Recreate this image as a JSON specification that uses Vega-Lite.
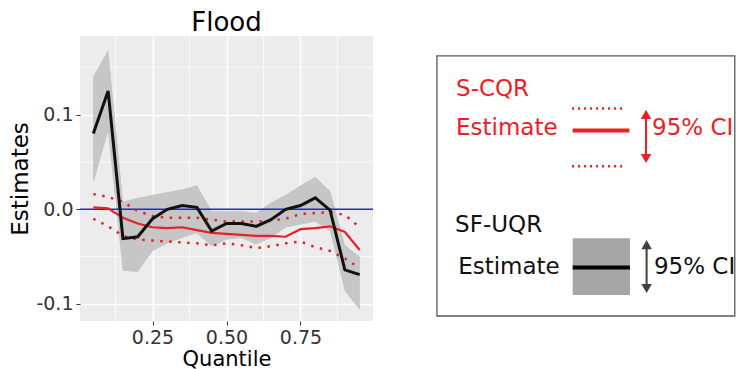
{
  "$schema": "https://vega.github.io/schema/vega-lite/v6.json",
  "background": "white",
  "padding": {"left": 9, "top": 9, "right": 0, "bottom": 0},
  "bounds": "flush",
  "spacing": 60,
  "config": {
    "view": {"stroke": null},
    "font": "DejaVu Sans",
    "axis": {"grid": true, "gridColor": "white", "gridWidth": 1.6, "domain": false, "ticks": true, "tickSize": 4, "tickColor": "#333333", "labelFontSize": 19, "labelColor": "#333333", "labelFont": "DejaVu Sans", "labelPadding": 3, "titleFontWeight": "normal", "titleColor": "black"},
    "axisX": {"titleFontSize": 21, "titleFont": "DejaVu Sans", "titlePadding": 1},
    "axisY": {"titleFontSize": 23, "titleFont": "DejaVu Sans", "titlePadding": 3}
  },
  "datasets": {
    "est": [
      {"q": 0.05, "black": 0.080, "lo": 0.028, "hi": 0.140, "red": 0.002, "rlo": -0.010, "rhi": 0.016},
      {"q": 0.10, "black": 0.125, "lo": 0.083, "hi": 0.168, "red": 0.001, "rlo": -0.018, "rhi": 0.013},
      {"q": 0.15, "black": -0.031, "lo": -0.065, "hi": 0.008, "red": -0.009, "rlo": -0.028, "rhi": 0.008},
      {"q": 0.20, "black": -0.029, "lo": -0.066, "hi": 0.012, "red": -0.015, "rlo": -0.032, "rhi": -0.002},
      {"q": 0.25, "black": -0.010, "lo": -0.044, "hi": 0.015, "red": -0.019, "rlo": -0.033, "rhi": -0.007},
      {"q": 0.30, "black": 0.000, "lo": -0.036, "hi": 0.018, "red": -0.020, "rlo": -0.034, "rhi": -0.009},
      {"q": 0.35, "black": 0.004, "lo": -0.030, "hi": 0.021, "red": -0.019, "rlo": -0.035, "rhi": -0.009},
      {"q": 0.40, "black": 0.002, "lo": -0.025, "hi": 0.025, "red": -0.022, "rlo": -0.036, "rhi": -0.009},
      {"q": 0.45, "black": -0.023, "lo": -0.039, "hi": -0.002, "red": -0.025, "rlo": -0.038, "rhi": -0.011},
      {"q": 0.50, "black": -0.015, "lo": -0.032, "hi": -0.002, "red": -0.026, "rlo": -0.036, "rhi": -0.013},
      {"q": 0.55, "black": -0.015, "lo": -0.030, "hi": -0.002, "red": -0.027, "rlo": -0.038, "rhi": -0.013},
      {"q": 0.60, "black": -0.018, "lo": -0.037, "hi": -0.004, "red": -0.028, "rlo": -0.041, "rhi": -0.013},
      {"q": 0.65, "black": -0.011, "lo": -0.030, "hi": 0.007, "red": -0.028, "rlo": -0.039, "rhi": -0.012},
      {"q": 0.70, "black": 0.000, "lo": -0.019, "hi": 0.015, "red": -0.029, "rlo": -0.036, "rhi": -0.010},
      {"q": 0.75, "black": 0.004, "lo": -0.016, "hi": 0.025, "red": -0.021, "rlo": -0.034, "rhi": -0.005},
      {"q": 0.80, "black": 0.012, "lo": -0.013, "hi": 0.034, "red": -0.020, "rlo": -0.040, "rhi": -0.004},
      {"q": 0.85, "black": -0.001, "lo": -0.023, "hi": 0.019, "red": -0.018, "rlo": -0.044, "rhi": -0.003},
      {"q": 0.90, "black": -0.064, "lo": -0.086, "hi": -0.038, "red": -0.024, "rlo": -0.052, "rhi": -0.006},
      {"q": 0.95, "black": -0.069, "lo": -0.106, "hi": -0.050, "red": -0.043, "rlo": -0.062, "rhi": -0.019}
    ]
  },
  "hconcat": [
    {
      "width": 293,
      "height": 285,
      "title": {"text": "Flood", "fontSize": 26, "font": "DejaVu Sans", "fontWeight": "normal", "color": "black", "anchor": "middle", "baseline": "alphabetic", "offset": -21},
      "view": {"fill": "#ececec", "stroke": null},
      "layer": [
        {
          "data": {"name": "est"},
          "mark": {"type": "area", "fill": "#c6c6c6", "opacity": 1},
          "encoding": {
            "x": {"field": "q", "type": "quantitative", "scale": {"domain": [0.005, 0.995], "nice": false, "zero": false},
              "axis": {"title": "Quantile", "values": [0.25, 0.5, 0.75], "format": ".2f"}},
            "y": {"field": "lo", "type": "quantitative", "scale": {"domain": [-0.118, 0.183], "nice": false, "zero": false},
              "axis": {"title": "Estimates", "values": [-0.1, 0, 0.1], "labelExpr": "replace(format(datum.value, '.1f'), '\u2212', '-')"}},
            "y2": {"field": "hi"}
          }
        },
        {
          "data": {"values": [{"gq": 0.125}, {"gq": 0.375}, {"gq": 0.625}, {"gq": 0.875}]},
          "mark": {"type": "rule", "color": "white", "strokeWidth": 0.8, "opacity": 0.9},
          "encoding": {"x": {"field": "gq", "type": "quantitative", "axis": {"title": "Quantile", "values": [0.25, 0.5, 0.75], "format": ".2f"}}}
        },
        {
          "data": {"values": [{"gy": -0.05}, {"gy": 0.05}, {"gy": 0.15}]},
          "mark": {"type": "rule", "color": "white", "strokeWidth": 0.8, "opacity": 0.9},
          "encoding": {"y": {"field": "gy", "type": "quantitative", "axis": {"title": "Estimates", "values": [-0.1, 0, 0.1], "labelExpr": "replace(format(datum.value, '.1f'), '\u2212', '-')"}}}
        },
        {
          "data": {"name": "est"},
          "mark": {"type": "area", "fill": "#c6c6c6", "opacity": 1},
          "encoding": {
            "x": {"field": "q", "type": "quantitative", "axis": {"title": "Quantile", "values": [0.25, 0.5, 0.75], "format": ".2f"}},
            "y": {"field": "lo", "type": "quantitative", "axis": {"title": "Estimates", "values": [-0.1, 0, 0.1], "labelExpr": "replace(format(datum.value, '.1f'), '\u2212', '-')"}},
            "y2": {"field": "hi"}
          }
        },
        {
          "data": {"values": [{"z": 0}]},
          "mark": {"type": "rule", "color": "#2626cc", "strokeWidth": 1.7},
          "encoding": {"y": {"field": "z", "type": "quantitative", "axis": {"title": "Estimates", "values": [-0.1, 0, 0.1], "labelExpr": "replace(format(datum.value, '.1f'), '\u2212', '-')"}}}
        },
        {
          "data": {"name": "est"},
          "mark": {"type": "line", "color": "#e8202a", "strokeWidth": 2.5, "strokeDash": [2.5, 6.5]},
          "encoding": {"x": {"field": "q", "type": "quantitative", "axis": {"title": "Quantile", "values": [0.25, 0.5, 0.75], "format": ".2f"}}, "y": {"field": "rhi", "type": "quantitative", "axis": {"title": "Estimates", "values": [-0.1, 0, 0.1], "labelExpr": "replace(format(datum.value, '.1f'), '\u2212', '-')"}}}
        },
        {
          "data": {"name": "est"},
          "mark": {"type": "line", "color": "#e8202a", "strokeWidth": 2.5, "strokeDash": [2.5, 6.5]},
          "encoding": {"x": {"field": "q", "type": "quantitative", "axis": {"title": "Quantile", "values": [0.25, 0.5, 0.75], "format": ".2f"}}, "y": {"field": "rlo", "type": "quantitative", "axis": {"title": "Estimates", "values": [-0.1, 0, 0.1], "labelExpr": "replace(format(datum.value, '.1f'), '\u2212', '-')"}}}
        },
        {
          "data": {"name": "est"},
          "mark": {"type": "line", "color": "#e8202a", "strokeWidth": 2.2},
          "encoding": {"x": {"field": "q", "type": "quantitative", "axis": {"title": "Quantile", "values": [0.25, 0.5, 0.75], "format": ".2f"}}, "y": {"field": "red", "type": "quantitative", "axis": {"title": "Estimates", "values": [-0.1, 0, 0.1], "labelExpr": "replace(format(datum.value, '.1f'), '\u2212', '-')"}}}
        },
        {
          "data": {"name": "est"},
          "mark": {"type": "line", "color": "#111111", "strokeWidth": 3},
          "encoding": {"x": {"field": "q", "type": "quantitative", "axis": {"title": "Quantile", "values": [0.25, 0.5, 0.75], "format": ".2f"}}, "y": {"field": "black", "type": "quantitative", "axis": {"title": "Estimates", "values": [-0.1, 0, 0.1], "labelExpr": "replace(format(datum.value, '.1f'), '\u2212', '-')"}}}
        }
      ]
    },
    {
      "width": 303,
      "height": 285,
      "layer": [
        {
          "data": {"values": [{"x": 1.3, "x2": 99.6, "y": 93, "y2": 1.75}]},
          "mark": {"type": "rect", "fill": "transparent", "stroke": "#5a5a5a", "strokeWidth": 1.3},
          "encoding": {
            "x": {"field": "x", "type": "quantitative", "scale": {"domain": [0, 100], "nice": false, "zero": false}, "axis": null},
            "x2": {"field": "x2"},
            "y": {"field": "y", "type": "quantitative", "scale": {"domain": [0, 100], "nice": false, "zero": false}, "axis": null},
            "y2": {"field": "y2"}
          }
        },
        {
          "data": {"values": [{"x": 46.1, "x2": 65, "y": 29, "y2": 9.1}]},
          "mark": {"type": "rect", "fill": "#a5a5a5"},
          "encoding": {
            "x": {"field": "x", "type": "quantitative", "axis": null}, "x2": {"field": "x2"},
            "y": {"field": "y", "type": "quantitative", "axis": null}, "y2": {"field": "y2"}
          }
        },
        {
          "data": {"values": [{"x": 46.1, "x2": 64.8, "y": 66.8, "y2": 66.8}]},
          "mark": {"type": "rule", "color": "#f01c24", "strokeWidth": 4},
          "encoding": {
            "x": {"field": "x", "type": "quantitative", "axis": null}, "x2": {"field": "x2"},
            "y": {"field": "y", "type": "quantitative", "axis": null}, "y2": {"field": "y2"}
          }
        },
        {
          "data": {"values": [{"x": 46.1, "x2": 65, "y": 18.8, "y2": 18.8}]},
          "mark": {"type": "rule", "color": "#000000", "strokeWidth": 4},
          "encoding": {
            "x": {"field": "x", "type": "quantitative", "axis": null}, "x2": {"field": "x2"},
            "y": {"field": "y", "type": "quantitative", "axis": null}, "y2": {"field": "y2"}
          }
        },
        {
          "data": {"values": [{"x": 45.9, "x2": 62.8, "y": 74.6, "y2": 74.6}, {"x": 45.9, "x2": 62.8, "y": 54.3, "y2": 54.3}]},
          "mark": {"type": "rule", "color": "#f01c24", "strokeWidth": 2.5, "strokeDash": [2, 4]},
          "encoding": {
            "x": {"field": "x", "type": "quantitative", "axis": null}, "x2": {"field": "x2"},
            "y": {"field": "y", "type": "quantitative", "axis": null}, "y2": {"field": "y2"}
          }
        },
        {
          "data": {"values": [{"x": 70.3, "y": 72.5, "y2": 57.0}]},
          "mark": {"type": "rule", "color": "#f01c24", "strokeWidth": 2},
          "encoding": {"x": {"field": "x", "type": "quantitative", "axis": null}, "y": {"field": "y", "type": "quantitative", "axis": null}, "y2": {"field": "y2"}}
        },
        {
          "data": {"values": [{"x": 70.5, "y": 26.8, "y2": 11.4}]},
          "mark": {"type": "rule", "color": "#404040", "strokeWidth": 2},
          "encoding": {"x": {"field": "x", "type": "quantitative", "axis": null}, "y": {"field": "y", "type": "quantitative", "axis": null}, "y2": {"field": "y2"}}
        },
        {
          "data": {"values": [{"x": 70.3, "y": 72.5}]},
          "mark": {"type": "point", "shape": "triangle-up", "filled": true, "color": "#f01c24", "size": 110, "opacity": 1},
          "encoding": {"x": {"field": "x", "type": "quantitative", "axis": null}, "y": {"field": "y", "type": "quantitative", "axis": null}}
        },
        {
          "data": {"values": [{"x": 70.3, "y": 57.0}]},
          "mark": {"type": "point", "shape": "triangle-down", "filled": true, "color": "#f01c24", "size": 110, "opacity": 1},
          "encoding": {"x": {"field": "x", "type": "quantitative", "axis": null}, "y": {"field": "y", "type": "quantitative", "axis": null}}
        },
        {
          "data": {"values": [{"x": 70.5, "y": 26.8}]},
          "mark": {"type": "point", "shape": "triangle-up", "filled": true, "color": "#404040", "size": 110, "opacity": 1},
          "encoding": {"x": {"field": "x", "type": "quantitative", "axis": null}, "y": {"field": "y", "type": "quantitative", "axis": null}}
        },
        {
          "data": {"values": [{"x": 70.5, "y": 11.4}]},
          "mark": {"type": "point", "shape": "triangle-down", "filled": true, "color": "#404040", "size": 110, "opacity": 1},
          "encoding": {"x": {"field": "x", "type": "quantitative", "axis": null}, "y": {"field": "y", "type": "quantitative", "axis": null}}
        },
        {
          "data": {"values": [{"t": "S-CQR", "x": 7.6, "y": 79.1}, {"t": "Estimate", "x": 7.6, "y": 65.3}, {"t": "95% CI", "x": 72.3, "y": 65.3}]},
          "mark": {"type": "text", "align": "left", "baseline": "alphabetic", "fontSize": 23, "font": "DejaVu Sans", "color": "#f01c24"},
          "encoding": {"x": {"field": "x", "type": "quantitative", "axis": null}, "y": {"field": "y", "type": "quantitative", "axis": null}, "text": {"field": "t"}}
        },
        {
          "data": {"values": [{"t": "SF-UQR", "x": 7.3, "y": 31.3}, {"t": "Estimate", "x": 8.3, "y": 16.5}, {"t": "95% CI", "x": 72.9, "y": 16.5}]},
          "mark": {"type": "text", "align": "left", "baseline": "alphabetic", "fontSize": 23, "font": "DejaVu Sans", "color": "#111111"},
          "encoding": {"x": {"field": "x", "type": "quantitative", "axis": null}, "y": {"field": "y", "type": "quantitative", "axis": null}, "text": {"field": "t"}}
        }
      ]
    }
  ]
}
